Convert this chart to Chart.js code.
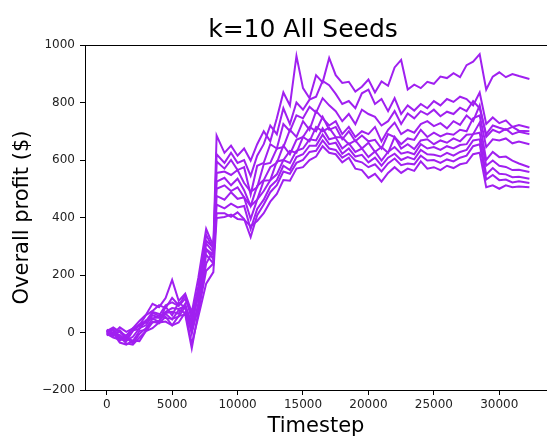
<!DOCTYPE html>
<html>
<head>
<meta charset="utf-8">
<script src="https://cdn.jsdelivr.net/npm/chart.js@4/dist/chart.umd.min.js"></script>
<style>
  html, body { margin: 0; padding: 0; background: #fff; }
  #wrap { width: 547px; height: 440px; position: relative; }
</style>
</head>
<body>
<div id="wrap"><canvas id="c" width="547" height="440"></canvas></div>
<script>
const chartTitle = "k=10 All Seeds";
const xTitle = "Timestep";
const yTitle = "Overall profit ($)";
const xTicks = [0, 5000, 10000, 15000, 20000, 25000, 30000];
const yTicks = [-200, 0, 200, 400, 600, 800, 1000];
const timesteps = [0,500,1000,1500,2000,2500,3000,3500,4000,4500,5000,5500,6000,6500,7000,7600,8150,8400,9000,9500,10000,10500,11000,11500,12000,12500,13000,13500,14000,14500,15000,15500,16000,16500,17000,17500,18000,18500,19000,19500,20000,20500,21000,21500,22000,22500,23000,23500,24000,24500,25000,25500,26000,26500,27000,27500,28000,28500,29000,29500,30000,30500,31000,31500,32300];

const seed0 = [5,18,2,-12,15, 40,62,100,88,120, 183,110,135,70,190, 360,300,685,625,650, 615,640,598,655,700, 665,745,835,790,962, 850,815,895,870,955, 895,868,872,838,855, 880,835,873,858,922, 948,845,862,850,872, 865,890,885,902,888, 930,942,968,845,890, 905,888,899,892,882];
const seed1 = [-5,8,-20,-30,5, 25,60,75,95,85, 120,95,130,45,160, 340,290,620,590,625, 590,600,545,615,655, 720,690,780,725,800, 775,810,820,875,860, 830,795,805,780,832, 845,795,812,770,815, 760,790,772,795,780, 805,790,812,802,820, 812,790,835,725,748, 728,738,715,722,712];
const seed2 = [0,-12,8,-18,-38, -5,15,48,38,90, 60,105,85,25,130, 310,280,595,570,600, 565,575,480,580,590, 655,640,725,700,755, 745,785,765,815,790, 770,735,760,725,775, 760,750,720,735,770, 725,762,745,770,758, 775,752,768,760,782, 770,805,780,690,720, 712,705,715,702,700];
const seed3 = [5,-3,-8,-28,-15, 15,25,60,52,68, 72,65,100,15,95, 290,270,555,560,548, 565,520,490,505,585, 590,640,645,705,680, 735,705,770,745,720, 735,690,715,680,700, 690,715,665,705,730, 690,705,695,725,735, 718,728,710,735,722, 755,735,790,680,705, 695,708,690,698,690];
const seed4 = [0,12,-15,-38,-42, -18,5,35,40,65, 45,78,68,5,85, 240,285,525,538,512, 535,495,440,510,530, 575,590,650,620,670, 680,715,700,750,705, 715,672,700,665,685, 665,670,640,690,680, 655,675,670,705,680, 695,682,692,688,705, 700,745,755,645,672, 668,675,658,664,655];
const seed5 = [10,-4,18,2,14, 22,35,68,58,95, 105,92,118,60,145, 320,295,500,512,492, 505,470,440,462,528, 530,595,600,632,625, 680,665,715,700,712, 680,678,655,668,640, 660,628,645,625,680, 640,655,638,668,672, 655,668,660,675,665, 688,690,730,600,628, 610,612,598,588,575];
const seed6 = [-5,-18,-25,-10,12, 28,40,72,65,50, 48,55,90,-5,100, 270,240,475,462,488, 465,470,395,462,492, 530,550,600,590,632, 640,672,668,710,672, 678,640,658,628,640, 610,630,598,628,645, 622,628,620,655,640, 645,635,648,640,652, 655,690,695,580,598, 580,576,565,566,558];
const seed7 = [0,8,-28,-15,-30, 5,10,38,32,55, 25,58,62,-55,70, 215,240,445,432,448, 435,440,360,430,462, 508,530,580,565,610, 620,650,650,688,655, 660,622,640,612,618, 592,608,580,608,622, 600,610,602,635,620, 618,612,625,615,628, 635,668,672,550,572, 552,550,540,542,535];
const seed8 = [5,-8,3,-22,8, 12,42,50,52,72, 85,82,92,35,135, 290,255,415,415,402, 418,395,332,408,445, 488,512,560,552,590, 600,628,632,668,640, 635,608,622,598,592, 575,585,560,588,605, 582,588,585,615,598, 600,590,602,595,608, 615,648,655,532,548, 530,532,522,526,520];
const seed9 = [-10,-2,-35,-42,-28, -30,5,15,35,38, 25,35,70,-40,55, 170,210,398,402,410, 395,392,370,388,415, 455,482,530,528,570, 575,600,612,648,625, 620,592,608,570,565, 538,552,525,555,575, 555,570,562,595,570, 575,565,580,572,585, 590,620,625,505,512, 500,512,505,508,505];

const seeds = [seed0, seed1, seed2, seed3, seed4, seed5, seed6, seed7, seed8, seed9];
const lineColor = '#a020f0';
const FONT = "'DejaVu Sans', sans-serif";
const fmt = (v) => (v < 0 ? '\u2212' + Math.abs(v) : String(v));

const datasets = seeds.map((s, k) => ({
  label: 'seed ' + k,
  data: s.map((v, i) => ({ x: timesteps[i], y: v })),
  borderColor: lineColor,
  backgroundColor: lineColor,
  borderWidth: 2,
  pointRadius: 0,
  tension: 0,
  fill: false
}));

const topSpineAndTitle = {
  id: 'topSpineAndTitle',
  afterDraw(chart) {
    const { ctx, chartArea } = chart;
    ctx.save();
    ctx.strokeStyle = '#000';
    ctx.lineWidth = 1;
    ctx.beginPath();
    ctx.moveTo(chartArea.left, chartArea.top + 0.5);
    ctx.lineTo(chartArea.right, chartArea.top + 0.5);
    ctx.stroke();
    ctx.fillStyle = '#000';
    ctx.font = "25px " + FONT;
    ctx.textAlign = 'center';
    ctx.textBaseline = 'alphabetic';
    ctx.fillText(chartTitle, 303, 37);
    ctx.restore();
  }
};

new Chart(document.getElementById('c'), {
  type: 'line',
  data: { datasets },
  plugins: [topSpineAndTitle],
  options: {
    responsive: false,
    animation: false,
    layout: { padding: { top: 45, left: 0, right: 0, bottom: 0 } },
    plugins: { legend: { display: false }, title: { display: false }, tooltip: { enabled: false } },
    scales: {
      x: {
        type: 'linear',
        min: -1658,
        max: 33645,
        afterBuildTicks: (sc) => { sc.ticks = xTicks.map(v => ({ value: v })); },
        afterFit: (sc) => { sc.height = 50; },
        grid: { display: true, drawOnChartArea: false, drawTicks: true, tickLength: 5, color: '#000' },
        border: { display: true, color: '#000', width: 1 },
        ticks: { font: { family: FONT, size: 12 }, color: '#222', padding: 3, maxRotation: 0, autoSkip: false, callback: fmt },
        title: { display: true, text: xTitle, font: { family: FONT, size: 21 }, color: '#000', padding: { top: 0, bottom: 1 } }
      },
      y: {
        type: 'linear',
        min: -200,
        max: 1000,
        afterBuildTicks: (sc) => { sc.ticks = yTicks.map(v => ({ value: v })); },
        afterFit: (sc) => { sc.width = 85; },
        grid: { display: true, drawOnChartArea: false, drawTicks: true, tickLength: 5, color: '#000' },
        border: { display: true, color: '#000', width: 1 },
        ticks: { font: { family: FONT, size: 12 }, color: '#222', padding: 5, callback: fmt },
        title: { display: true, text: yTitle, font: { family: FONT, size: 21 }, color: '#000', padding: { top: 10, bottom: 0 } }
      }
    }
  }
});
</script>
</body>
</html>
